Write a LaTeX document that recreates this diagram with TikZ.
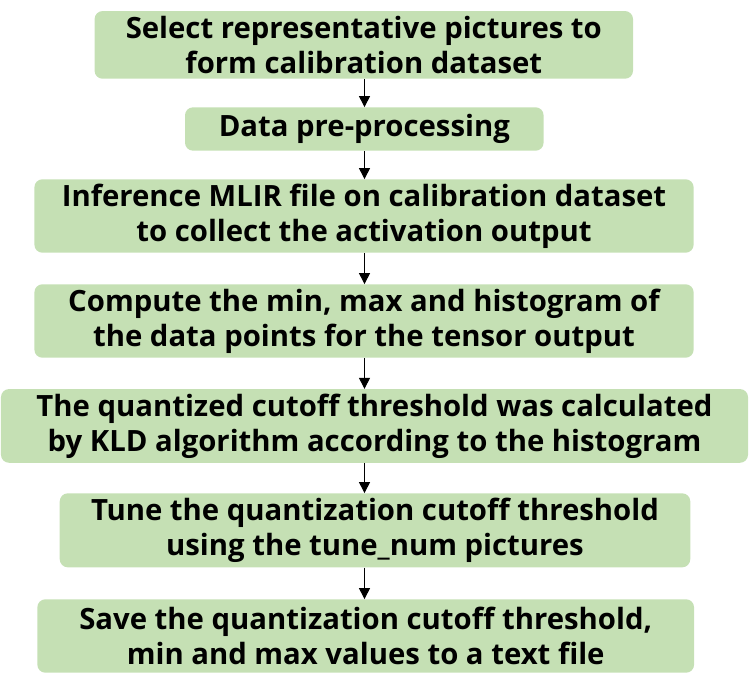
\documentclass[tikz,border=0pt]{standalone}
\usepackage{fontspec}
\setmainfont{Open Sans}
\usetikzlibrary{arrows.meta}
\definecolor{boxgreen}{HTML}{C5E0B4}

\begin{document}
\begin{tikzpicture}[x=1bp,y=1bp,
	stepbox/.style={fill=boxgreen, rounded corners=8bp, align=center, inner sep=0pt,
		font=\fontsize{29.3bp}{35bp}\selectfont\bfseries},
	flow/.style={-{Triangle[length=11bp,width=11bp]}, line width=1bp}]
	\useasboundingbox (0,0) rectangle (749,-689);
	\coordinate (axis) at (364.5,0);
	\node[stepbox, minimum width=538.4bp, minimum height=67.7bp] (sel)   at (363.8,-44.9) {Select representative pictures to\\form calibration dataset};
	\node[stepbox, minimum width=358.6bp, minimum height=43.4bp] (prep)  at (364.3,-129.0) {Data pre-processing};
	\node[stepbox, minimum width=659.2bp, minimum height=73.4bp] (infer) at (364.0,-216.0) {Inference MLIR file on calibration dataset\\to collect the activation output};
	\node[stepbox, minimum width=659.2bp, minimum height=73.4bp] (comp)  at (364.0,-321.0) {Compute the min, max and histogram of\\the data points for the tensor output};
	\node[stepbox, minimum width=747.0bp, minimum height=73.7bp] (kld)   at (374.5,-425.9) {The quantized cutoff threshold was calculated\\by KLD algorithm according to the histogram};
	\node[stepbox, minimum width=630.5bp, minimum height=74.0bp] (tune)  at (375.0,-530.3) {Tune the quantization cutoff threshold\\using the tune\_num pictures};
	\node[stepbox, minimum width=656.7bp, minimum height=73.4bp] (save)  at (365.7,-636.0) {Save the quantization cutoff threshold,\\min and max values to a text file};
	\draw[flow] (sel.south -| axis) -- (prep.north -| axis);
	\draw[flow] (prep.south -| axis) -- (infer.north -| axis);
	\draw[flow] (infer.south -| axis) -- (comp.north -| axis);
	\draw[flow] (comp.south -| axis) -- (kld.north -| axis);
	\draw[flow] (kld.south -| axis) -- (tune.north -| axis);
	\draw[flow] (tune.south -| axis) -- (save.north -| axis);
\end{tikzpicture}
\end{document}
